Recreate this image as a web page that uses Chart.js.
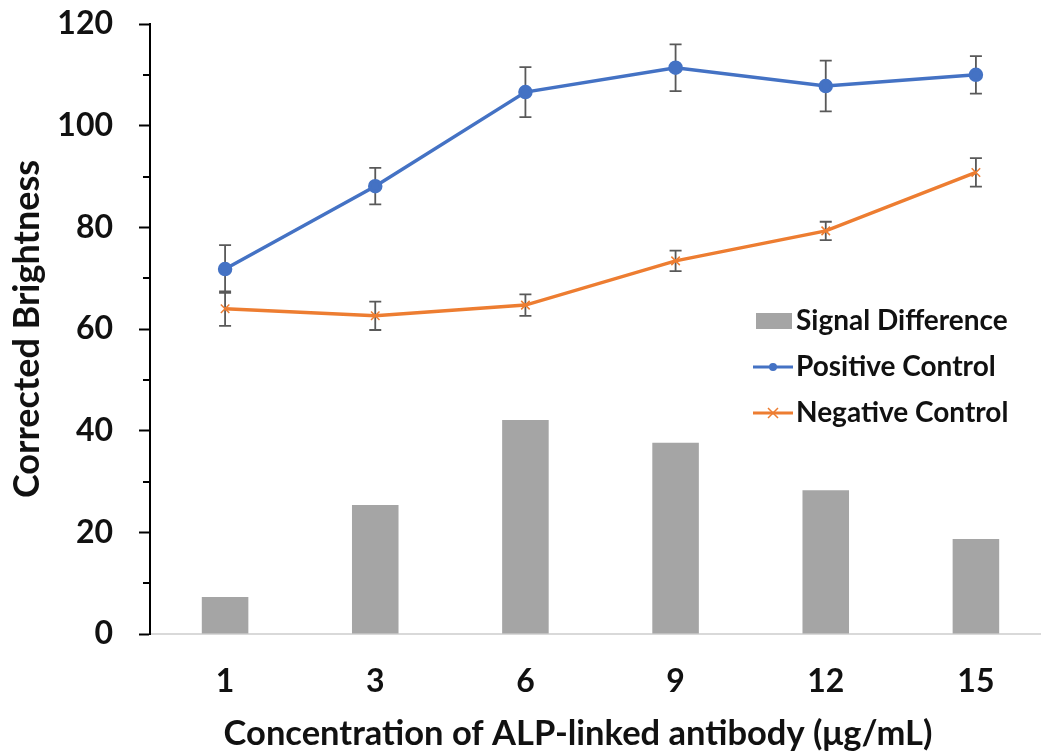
<!DOCTYPE html>
<html>
<head>
<meta charset="utf-8">
<script src="https://cdn.jsdelivr.net/npm/chart.js@4/dist/chart.umd.min.js"></script>
<style>
  html, body { margin: 0; padding: 0; background: #fff; overflow: hidden; }
  #wrap { width: 1060px; height: 753px; position: relative; }
</style>
</head>
<body>
<div id="wrap"><canvas id="chart"></canvas></div>
<script>
// donnees
const concentrations = ['1', '3', '6', '9', '12', '15'];
const signalDiff = [7.3, 25.4, 42.1, 37.6, 28.3, 18.7];
const positive = [71.8, 88.1, 106.6, 111.4, 107.8, 110.0];
const positiveErr = [4.7, 3.6, 4.9, 4.6, 5.0, 3.7];
const negative = [64.0, 62.6, 64.7, 73.4, 79.3, 90.8];
const negativeErr = [3.4, 2.8, 2.1, 2.0, 1.8, 2.8];
const yTicks = [0, 20, 40, 60, 80, 100, 120];
const xTitle = 'Concentration of ALP-linked antibody (μg/mL)';

const FONT = 'Lato';
const BLUE = '#4472C4', ORANGE = '#ED7D31', GREY = '#A5A5A5';

// barres d'erreur, dessinees juste apres les barres (donc sous les lignes)
const errorBars = {
  id: 'errorBars',
  afterDatasetDraw(chart, args) {
    if (args.index !== 0) return;
    const { ctx, scales: { x, y } } = chart;
    ctx.save();
    ctx.strokeStyle = '#595959';
    ctx.lineWidth = 1.8;
    [[positive, positiveErr], [negative, negativeErr]].forEach(([vals, errs]) => {
      vals.forEach((v, i) => {
        const px = x.getPixelForValue(i);
        const top = y.getPixelForValue(v + errs[i]);
        const bot = y.getPixelForValue(v - errs[i]);
        ctx.beginPath();
        ctx.moveTo(px, top); ctx.lineTo(px, bot);
        ctx.moveTo(px - 6, top); ctx.lineTo(px + 6, top);
        ctx.moveTo(px - 6, bot); ctx.lineTo(px + 6, bot);
        ctx.stroke();
      });
    });
    ctx.restore();
  }
};

// petites graduations (tous les 10) + titre de l'axe x
const extras = {
  id: 'extras',
  afterDraw(chart) {
    const { ctx, scales: { y }, chartArea } = chart;
    ctx.save();
    ctx.strokeStyle = '#000';
    ctx.lineWidth = 2;
    for (let v = 10; v < 120; v += 20) {
      const py = Math.round(y.getPixelForValue(v));
      ctx.beginPath();
      ctx.moveTo(y.right - 7, py); ctx.lineTo(y.right, py);
      ctx.stroke();
    }
    // titre x, centre sur la figure plutot que sur l'axe
    ctx.font = `bold 34.5px ${FONT}`;
    ctx.fillStyle = '#111';
    ctx.textAlign = 'center';
    ctx.textBaseline = 'middle';
    ctx.fillText(xTitle, chartArea.left + 428, chartArea.bottom + 100);
    ctx.restore();
  }
};

// legende dans la zone du graphique, a droite
const insideLegend = {
  id: 'insideLegend',
  afterDraw(chart) {
    const { ctx, chartArea } = chart;
    const x0 = chartArea.right - 295;
    const y0 = chartArea.top + 297;
    const gap = 46;
    ctx.save();
    ctx.font = `bold 28px ${FONT}`;
    ctx.textBaseline = 'middle';
    // barre
    ctx.fillStyle = GREY;
    ctx.fillRect(x0, y0 - 8, 36, 16);
    ctx.fillStyle = '#111';
    ctx.fillText(chart.data.datasets[0].label, x0 + 40, y0);
    // positif
    let yy = y0 + gap;
    ctx.strokeStyle = BLUE; ctx.lineWidth = 3;
    ctx.beginPath(); ctx.moveTo(x0 - 3, yy); ctx.lineTo(x0 + 37, yy); ctx.stroke();
    ctx.fillStyle = BLUE;
    ctx.beginPath(); ctx.arc(x0 + 17, yy, 4, 0, Math.PI * 2); ctx.fill();
    ctx.fillStyle = '#111';
    ctx.fillText(chart.data.datasets[1].label, x0 + 40, yy);
    // negatif
    yy = y0 + gap * 2;
    ctx.strokeStyle = ORANGE; ctx.lineWidth = 3;
    ctx.beginPath(); ctx.moveTo(x0 - 3, yy); ctx.lineTo(x0 + 37, yy); ctx.stroke();
    ctx.lineWidth = 1.5;
    ctx.beginPath();
    ctx.moveTo(x0 + 12, yy - 5); ctx.lineTo(x0 + 22, yy + 5);
    ctx.moveTo(x0 + 12, yy + 5); ctx.lineTo(x0 + 22, yy - 5);
    ctx.stroke();
    ctx.fillText(chart.data.datasets[2].label, x0 + 40, yy);
    ctx.restore();
  }
};

new Chart(document.getElementById('chart'), {
  type: 'bar',
  data: {
    labels: concentrations,
    datasets: [
      {
        type: 'bar',
        label: 'Signal Difference',
        data: signalDiff,
        backgroundColor: GREY,
        barPercentage: 0.31,
        categoryPercentage: 1,
        order: 3
      },
      {
        type: 'line',
        label: 'Positive Control',
        data: positive,
        borderColor: BLUE,
        backgroundColor: BLUE,
        borderWidth: 3.5,
        pointRadius: 5.5,
        pointStyle: 'circle',
        tension: 0,
        order: 2
      },
      {
        type: 'line',
        label: 'Negative Control',
        data: negative,
        borderColor: ORANGE,
        backgroundColor: ORANGE,
        borderWidth: 3.5,
        pointRadius: 6,
        pointBorderWidth: 1.5,
        pointStyle: 'crossRot',
        tension: 0,
        order: 1
      }
    ]
  },
  options: {
    responsive: true,
    maintainAspectRatio: false,
    animation: false,
    layout: { padding: { top: 24, right: 5, left: 0, bottom: 0 } },
    plugins: {
      legend: { display: false },
      tooltip: { enabled: false }
    },
    scales: {
      x: {
        offset: true,
        grid: { display: false },
        border: { display: true, color: '#d9d9d9', width: 2 },
        ticks: { color: '#111', font: { family: FONT, size: 32, weight: 'bold' }, padding: 20 },
        afterFit(scale) { scale.height = 119; }
      },
      y: {
        min: 0,
        max: 120,
        grid: {
          drawOnChartArea: false,
          drawTicks: true,
          tickLength: 11,
          tickWidth: 2,
          tickColor: (c) => (yTicks.includes(c.tick.value) ? '#000' : 'rgba(0,0,0,0)')
        },
        border: { display: true, color: '#000', width: 2 },
        ticks: {
          stepSize: 10,
          autoSkip: false,
          padding: 26,
          color: '#111',
          font: { family: FONT, size: 32, weight: 'bold' },
          callback: (v) => (yTicks.includes(v) ? v : '')
        },
        title: {
          display: true,
          text: 'Corrected Brightness',
          color: '#111',
          font: { family: FONT, size: 36, weight: 'bold' },
          padding: { top: 6, bottom: 0 }
        },
        afterFit(scale) {
          scale.width = 150;
          scale.paddingTop = 0;
          scale.paddingBottom = 0;
        }
      }
    }
  },
  plugins: [errorBars, extras, insideLegend]
});
</script>
</body>
</html>
